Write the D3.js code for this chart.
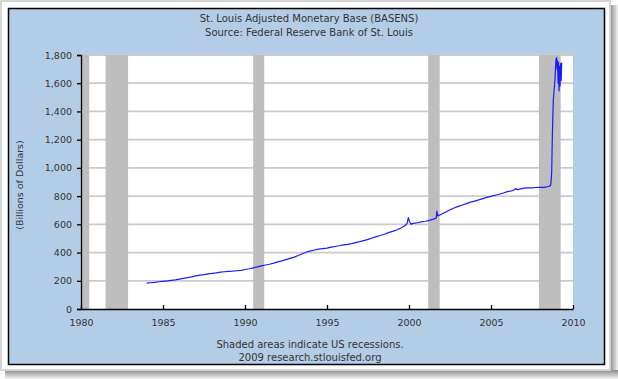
<!DOCTYPE html>
<html>
<head>
<meta charset="utf-8">
<script src="https://cdn.jsdelivr.net/npm/d3@7"></script>
<style>
  html, body { margin: 0; padding: 0; background: #ffffff; }
  svg { display: block; }
  text { font-family: "DejaVu Sans", Verdana, sans-serif; }
</style>
</head>
<body>
<script>
// ---------- data ----------
const titleLines = ["St. Louis Adjusted Monetary Base (BASENS)", "Source: Federal Reserve Bank of St. Louis"];
const footerLines = ["Shaded areas indicate US recessions.", "2009 research.stlouisfed.org"];
const yAxisLabel = "(Billions of Dollars)";
const xTicks = [1980, 1985, 1990, 1995, 2000, 2005, 2010];
const yTicks = [0, 200, 400, 600, 800, 1000, 1200, 1400, 1600, 1800];
const recessionStarts = [1980.0, 1981.5, 1990.5, 2001.17, 2007.92];
const recessionEnds   = [1980.5, 1982.87, 1991.17, 2001.87, 2009.25];
const dates = [
  1984.00,1984.25,1984.50,1984.75,1985.00,1985.25,1985.50,1985.75,
  1986.00,1986.25,1986.50,1986.75,1987.00,1987.25,1987.50,1987.75,
  1988.00,1988.25,1988.50,1988.75,1989.00,1989.25,1989.50,1989.75,
  1990.00,1990.25,1990.50,1990.75,1991.00,1991.25,1991.50,1991.75,
  1992.00,1992.25,1992.50,1992.75,1993.00,1993.25,1993.50,1993.75,
  1994.00,1994.25,1994.50,1994.75,1995.00,1995.25,1995.50,1995.75,
  1996.00,1996.25,1996.50,1996.75,1997.00,1997.25,1997.50,1997.75,
  1998.00,1998.25,1998.50,1998.75,1999.00,1999.25,1999.50,1999.75,
  1999.88,1999.96,2000.04,2000.12,2000.25,2000.50,2000.75,
  2001.00,2001.25,2001.50,2001.66,2001.70,2001.75,2001.90,
  2002.00,2002.25,2002.50,2002.75,2003.00,2003.25,2003.50,2003.75,
  2004.00,2004.25,2004.50,2004.75,2005.00,2005.25,2005.50,2005.75,
  2006.00,2006.25,2006.40,2006.50,2006.60,2006.75,
  2007.00,2007.25,2007.50,2007.75,2008.00,2008.25,2008.50,2008.64,
  2008.70,2008.74,2008.80,2008.90,2008.96,2009.00,2009.03,2009.06,
  2009.09,2009.12,2009.15,2009.18,2009.21,2009.25,2009.28,2009.31
];
const values = [
  183,186,189,193,196,199,203,207,
  212,217,222,228,235,240,243,249,
  252,256,261,264,266,268,271,274,
  280,285,292,299,306,312,317,325,
  334,341,350,359,368,379,392,404,
  412,418,424,428,432,438,443,448,
  455,458,463,470,477,485,493,503,
  513,521,530,541,550,560,574,590,
  605,648,618,600,607,611,617,
  622,628,637,645,693,660,668,
  673,688,703,716,727,737,747,757,
  765,773,782,791,798,806,813,822,
  832,837,843,853,846,850,
  856,858,859,861,862,862,868,876,
  966,1224,1485,1627,1769,1781,1700,1760,
  1600,1748,1545,1720,1580,1740,1620,1746
];

// ---------- layout ----------
const W = 618, H = 379;
const svg = d3.select("body").append("svg").attr("width", W).attr("height", H);

// drop shadow
const defs = svg.append("defs");
const gR = defs.append("linearGradient").attr("id", "shR").attr("x1", "0").attr("x2", "1").attr("y1", "0").attr("y2", "0");
gR.append("stop").attr("offset", "0").attr("stop-color", "#8a8a8a");
gR.append("stop").attr("offset", "1").attr("stop-color", "#f4f4f4");
const gB = defs.append("linearGradient").attr("id", "shB").attr("x1", "0").attr("x2", "0").attr("y1", "0").attr("y2", "1");
gB.append("stop").attr("offset", "0").attr("stop-color", "#8a8a8a");
gB.append("stop").attr("offset", "1").attr("stop-color", "#f4f4f4");
svg.append("rect").attr("x", 610).attr("y", 5).attr("width", 8).attr("height", 374).attr("fill", "url(#shR)");
svg.append("rect").attr("x", 5).attr("y", 370).attr("width", 613).attr("height", 9).attr("fill", "url(#shB)");

// outer white frame
svg.append("rect").attr("x", 1).attr("y", 1).attr("width", 609).attr("height", 369)
  .attr("fill", "#ffffff").attr("stroke", "#d4d4d4").attr("stroke-width", 2);

// blue panel
svg.append("rect").attr("x", 8.5).attr("y", 8.5).attr("width", 596).attr("height", 356)
  .attr("fill", "#b4cde6").attr("stroke", "#000000").attr("stroke-width", 1.5);

const x = d3.scaleLinear().domain([1980, 2010]).range([81, 573]);
const y = d3.scaleLinear().domain([0, 1800]).range([309, 55]);

// plot background
svg.append("rect").attr("x", x(1980)).attr("y", y(1800))
  .attr("width", x(2010) - x(1980)).attr("height", y(0) - y(1800)).attr("fill", "#ffffff");

// grid lines
svg.append("g").selectAll("line").data(yTicks.filter(v => v > 0)).join("line")
  .attr("x1", x(1980)).attr("x2", x(2010))
  .attr("y1", d => y(d)).attr("y2", d => y(d))
  .attr("stroke", "#cbcbcb").attr("stroke-width", 1.8);

// recession bars
svg.append("g").selectAll("rect").data(recessionStarts.map((s, i) => [s, recessionEnds[i]])).join("rect")
  .attr("x", d => x(d[0])).attr("width", d => x(d[1]) - x(d[0]))
  .attr("y", y(1800)).attr("height", y(0) - y(1800))
  .attr("fill", "#bebebe");

// series line
const series = dates.map((d, i) => [d, values[i]]);
svg.append("path").datum(series)
  .attr("fill", "none").attr("stroke", "#1a1aff").attr("stroke-width", 1.2)
  .attr("stroke-linejoin", "round")
  .attr("d", d3.line().x(d => x(d[0])).y(d => y(d[1])));

// axes
const yAxis = svg.append("g").attr("transform", `translate(${x(1980)},0)`)
  .call(d3.axisLeft(y).tickValues(yTicks).tickFormat(d3.format(",")).tickSize(4).tickPadding(5));
const xAxis = svg.append("g").attr("transform", `translate(0,${y(0)})`)
  .call(d3.axisBottom(x).tickValues(xTicks).tickFormat(d3.format("d")).tickSize(-4).tickSizeOuter(0).tickPadding(10));
[yAxis, xAxis].forEach(g => {
  g.selectAll("path, line").attr("stroke", "#000").attr("stroke-width", 1.3);
  g.selectAll("text").attr("fill", "#333").style("font-size", "9.5px")
    .style("font-family", '"DejaVu Sans", Verdana, sans-serif');
});

// titles
svg.append("g").selectAll("text").data(titleLines).join("text")
  .attr("x", 309).attr("y", (d, i) => 22 + i * 14)
  .attr("text-anchor", "middle").attr("fill", "#333").style("font-size", "10px").text(d => d);

// footer
svg.append("g").selectAll("text").data(footerLines).join("text")
  .attr("x", 310).attr("y", (d, i) => 348 + i * 13)
  .attr("text-anchor", "middle").attr("fill", "#333").style("font-size", "10px").text(d => d);

// y axis label
svg.append("text").attr("transform", `translate(23,${(y(0) + y(1800)) / 2 + 3}) rotate(-90)`)
  .attr("text-anchor", "middle").attr("fill", "#333").style("font-size", "9.5px").text(yAxisLabel);
</script>
</body>
</html>
